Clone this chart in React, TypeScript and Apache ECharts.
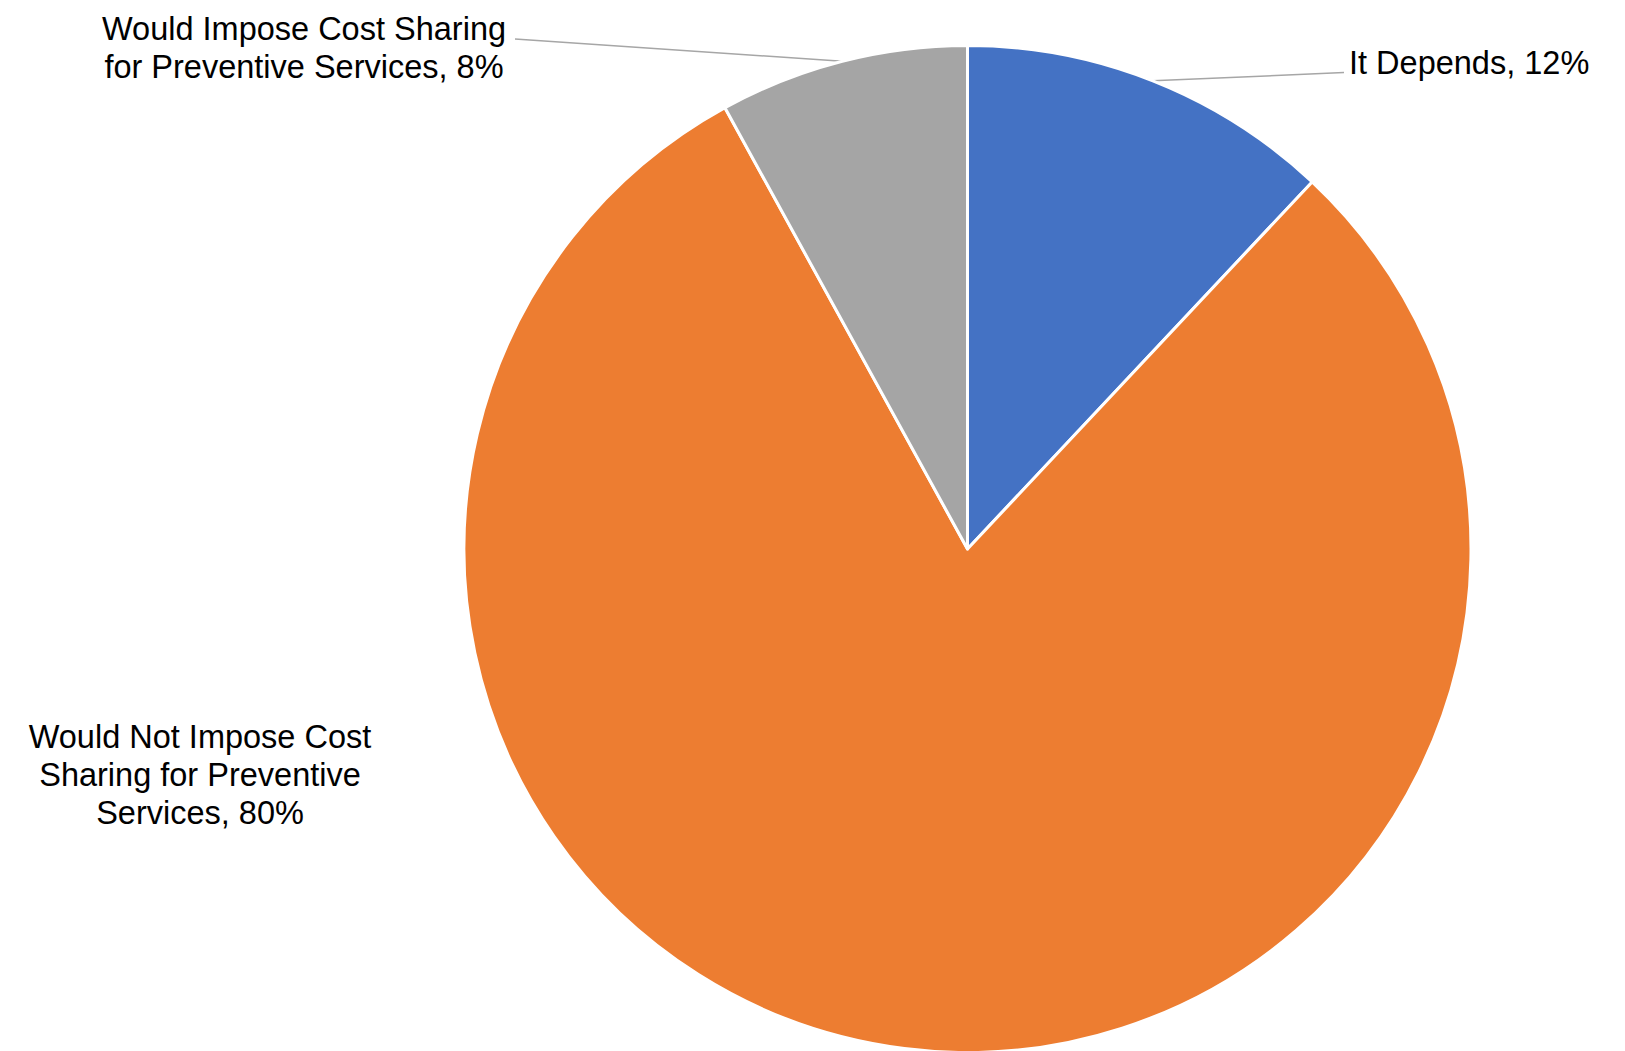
import React, { useEffect, useRef } from 'react';
import * as echarts from 'echarts';

// Data
const categories = [
  'It Depends',
  'Would Not Impose Cost\nSharing for Preventive\nServices',
  'Would Impose Cost Sharing\nfor Preventive Services',
];
const values = [12, 80, 8];
const colors = ['#4472C4', '#ED7D31', '#A5A5A5'];

// Layout (positions / styles)
const CENTER = [967.5, 549];
const RADIUS = 503.5;
const labelAnchors: { x: number; y: number; align: string; line: number[] | null }[] = [
  { x: 1349, y: 63, align: 'left', line: [1344, 72.5] },
  { x: 200, y: 775, align: 'center', line: null },
  { x: 304, y: 48, align: 'center', line: [515, 39] },
];

export default function App() {
  const ref = useRef<HTMLDivElement>(null);
  useEffect(() => {
    document.body.style.margin = '0';
    if (!ref.current) return;
    const chart = echarts.init(ref.current, undefined, { renderer: 'svg' });
    const total = values.reduce((a, b) => a + b, 0);
    chart.setOption({
      animation: false,
      backgroundColor: '#ffffff',
      series: [
        {
          type: 'pie',
          center: CENTER,
          radius: RADIUS,
          startAngle: 90,
          clockwise: true,
          avoidLabelOverlap: false,
          itemStyle: { borderColor: '#ffffff', borderWidth: 3 },
          label: {
            show: true,
            position: 'outside',
            color: '#000000',
            fontFamily: 'Liberation Sans, Arial, sans-serif',
            fontSize: 32.5,
            lineHeight: 38,
            formatter: (p: any) => `${p.name}, ${p.value}%`,
          },
          labelLine: {
            show: true,
            lineStyle: { color: '#A6A6A6', width: 1.5 },
          },
          labelLayout: (params: any) => {
            const idx = params.dataIndex;
            const a = labelAnchors[idx];
            const out: any = { x: a.x, y: a.y, align: a.align, verticalAlign: 'middle' };
            if (a.line) {
              let before = 0;
              for (let i = 0; i < idx; i++) before += values[i];
              const mid = ((before + values[idx] / 2) / total) * Math.PI * 2;
              const p0 = [CENTER[0] + RADIUS * Math.sin(mid), CENTER[1] - RADIUS * Math.cos(mid)];
              out.labelLinePoints = [p0, a.line, a.line];
            }
            return out;
          },
          data: categories.map((name, i) => ({
            name,
            value: values[i],
            itemStyle: { color: colors[i] },
            labelLine: { show: labelAnchors[i].line !== null },
          })),
        },
      ],
    });
    return () => chart.dispose();
  }, []);
  return <div ref={ref} style={{ width: 1625, height: 1051 }} />;
}
